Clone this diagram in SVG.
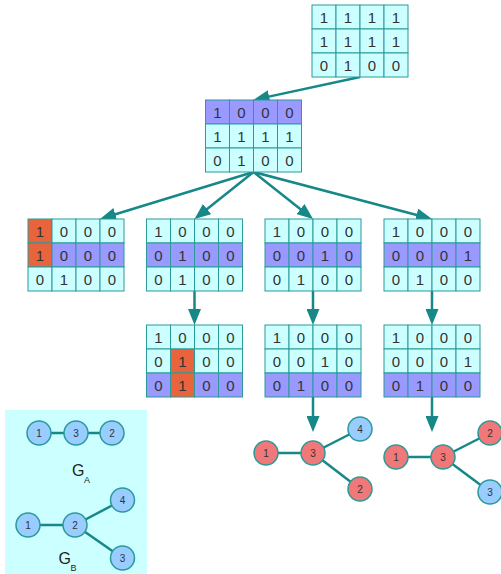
<svg xmlns="http://www.w3.org/2000/svg" width="501" height="574" viewBox="0 0 501 574">
<defs>
<style>
.c{fill:#ccffff;stroke:#2a9a9a;stroke-width:1}
.p{fill:#9999ff;stroke:#2a9a9a;stroke-width:1}
.o{fill:#e8643c;stroke:#2a9a9a;stroke-width:1}
.t{font-family:"Liberation Sans",Arial,sans-serif;font-size:15px;fill:#333;text-anchor:middle}
.e{stroke:#168888;stroke-width:2.5;fill:none}
.a{stroke:#168888;stroke-width:2.5;fill:none;marker-end:url(#ah)}
.nb{fill:#99ccff;stroke:#2a9a9a;stroke-width:1.5}
.nr{fill:#f07878;stroke:#2a9a9a;stroke-width:1.5}
.nt{font-family:"Liberation Sans",Arial,sans-serif;font-size:10px;fill:#333;text-anchor:middle}
.g{font-family:"Liberation Sans",Arial,sans-serif;font-size:16px;fill:#222}
.s{font-family:"Liberation Sans",Arial,sans-serif;font-size:9px;fill:#222}
</style>
<marker id="ah" markerUnits="userSpaceOnUse" markerWidth="17" markerHeight="13" refX="11" refY="6.5" orient="auto" viewBox="0 0 17 13">
<path d="M0,0 L16,6.5 L0,13 z" fill="#168888"/>
</marker>
</defs>

<g id="connectors">
<line class="a" x1="360" y1="77" x2="258.4" y2="98.9"/>
<line class="a" x1="253.5" y1="172" x2="104.8" y2="217.5"/>
<line class="a" x1="253.5" y1="172" x2="198.4" y2="215.9"/>
<line class="a" x1="253.5" y1="172" x2="309.1" y2="215.9"/>
<line class="a" x1="253.5" y1="172" x2="427.2" y2="217.7"/>
<line class="a" x1="194.5" y1="291" x2="194.5" y2="320"/>
<line class="a" x1="313" y1="291" x2="313" y2="320"/>
<line class="a" x1="432" y1="291" x2="432" y2="320"/>
<line class="a" x1="313" y1="397" x2="313" y2="427"/>
<line class="a" x1="432" y1="397" x2="432" y2="427"/>
</g>

<g id="m-top" transform="translate(312,5)">
<rect class="c" x="0" y="0" width="24" height="24"/><rect class="c" x="24" y="0" width="24" height="24"/><rect class="c" x="48" y="0" width="24" height="24"/><rect class="c" x="72" y="0" width="24" height="24"/>
<rect class="c" x="0" y="24" width="24" height="24"/><rect class="c" x="24" y="24" width="24" height="24"/><rect class="c" x="48" y="24" width="24" height="24"/><rect class="c" x="72" y="24" width="24" height="24"/>
<rect class="c" x="0" y="48" width="24" height="24"/><rect class="c" x="24" y="48" width="24" height="24"/><rect class="c" x="48" y="48" width="24" height="24"/><rect class="c" x="72" y="48" width="24" height="24"/>
<text class="t" x="12" y="17.5">1</text><text class="t" x="36" y="17.5">1</text><text class="t" x="60" y="17.5">1</text><text class="t" x="84" y="17.5">1</text>
<text class="t" x="12" y="41.5">1</text><text class="t" x="36" y="41.5">1</text><text class="t" x="60" y="41.5">1</text><text class="t" x="84" y="41.5">1</text>
<text class="t" x="12" y="65.5">0</text><text class="t" x="36" y="65.5">1</text><text class="t" x="60" y="65.5">0</text><text class="t" x="84" y="65.5">0</text>
</g>

<g id="m-2" transform="translate(205.5,100)">
<rect class="p" x="0" y="0" width="24" height="24"/><rect class="p" x="24" y="0" width="24" height="24"/><rect class="p" x="48" y="0" width="24" height="24"/><rect class="p" x="72" y="0" width="24" height="24"/>
<rect class="c" x="0" y="24" width="24" height="24"/><rect class="c" x="24" y="24" width="24" height="24"/><rect class="c" x="48" y="24" width="24" height="24"/><rect class="c" x="72" y="24" width="24" height="24"/>
<rect class="c" x="0" y="48" width="24" height="24"/><rect class="c" x="24" y="48" width="24" height="24"/><rect class="c" x="48" y="48" width="24" height="24"/><rect class="c" x="72" y="48" width="24" height="24"/>
<text class="t" x="12" y="17.5">1</text><text class="t" x="36" y="17.5">0</text><text class="t" x="60" y="17.5">0</text><text class="t" x="84" y="17.5">0</text>
<text class="t" x="12" y="41.5">1</text><text class="t" x="36" y="41.5">1</text><text class="t" x="60" y="41.5">1</text><text class="t" x="84" y="41.5">1</text>
<text class="t" x="12" y="65.5">0</text><text class="t" x="36" y="65.5">1</text><text class="t" x="60" y="65.5">0</text><text class="t" x="84" y="65.5">0</text>
</g>

<g id="m-3a" transform="translate(28,219)">
<rect class="o" x="0" y="0" width="24" height="24"/><rect class="c" x="24" y="0" width="24" height="24"/><rect class="c" x="48" y="0" width="24" height="24"/><rect class="c" x="72" y="0" width="24" height="24"/>
<rect class="o" x="0" y="24" width="24" height="24"/><rect class="p" x="24" y="24" width="24" height="24"/><rect class="p" x="48" y="24" width="24" height="24"/><rect class="p" x="72" y="24" width="24" height="24"/>
<rect class="c" x="0" y="48" width="24" height="24"/><rect class="c" x="24" y="48" width="24" height="24"/><rect class="c" x="48" y="48" width="24" height="24"/><rect class="c" x="72" y="48" width="24" height="24"/>
<text class="t" x="12" y="17.5">1</text><text class="t" x="36" y="17.5">0</text><text class="t" x="60" y="17.5">0</text><text class="t" x="84" y="17.5">0</text>
<text class="t" x="12" y="41.5">1</text><text class="t" x="36" y="41.5">0</text><text class="t" x="60" y="41.5">0</text><text class="t" x="84" y="41.5">0</text>
<text class="t" x="12" y="65.5">0</text><text class="t" x="36" y="65.5">1</text><text class="t" x="60" y="65.5">0</text><text class="t" x="84" y="65.5">0</text>
</g>

<g id="m-3b" transform="translate(146.5,219)">
<rect class="c" x="0" y="0" width="24" height="24"/><rect class="c" x="24" y="0" width="24" height="24"/><rect class="c" x="48" y="0" width="24" height="24"/><rect class="c" x="72" y="0" width="24" height="24"/>
<rect class="p" x="0" y="24" width="24" height="24"/><rect class="p" x="24" y="24" width="24" height="24"/><rect class="p" x="48" y="24" width="24" height="24"/><rect class="p" x="72" y="24" width="24" height="24"/>
<rect class="c" x="0" y="48" width="24" height="24"/><rect class="c" x="24" y="48" width="24" height="24"/><rect class="c" x="48" y="48" width="24" height="24"/><rect class="c" x="72" y="48" width="24" height="24"/>
<text class="t" x="12" y="17.5">1</text><text class="t" x="36" y="17.5">0</text><text class="t" x="60" y="17.5">0</text><text class="t" x="84" y="17.5">0</text>
<text class="t" x="12" y="41.5">0</text><text class="t" x="36" y="41.5">1</text><text class="t" x="60" y="41.5">0</text><text class="t" x="84" y="41.5">0</text>
<text class="t" x="12" y="65.5">0</text><text class="t" x="36" y="65.5">1</text><text class="t" x="60" y="65.5">0</text><text class="t" x="84" y="65.5">0</text>
</g>

<g id="m-3c" transform="translate(265,219)">
<rect class="c" x="0" y="0" width="24" height="24"/><rect class="c" x="24" y="0" width="24" height="24"/><rect class="c" x="48" y="0" width="24" height="24"/><rect class="c" x="72" y="0" width="24" height="24"/>
<rect class="p" x="0" y="24" width="24" height="24"/><rect class="p" x="24" y="24" width="24" height="24"/><rect class="p" x="48" y="24" width="24" height="24"/><rect class="p" x="72" y="24" width="24" height="24"/>
<rect class="c" x="0" y="48" width="24" height="24"/><rect class="c" x="24" y="48" width="24" height="24"/><rect class="c" x="48" y="48" width="24" height="24"/><rect class="c" x="72" y="48" width="24" height="24"/>
<text class="t" x="12" y="17.5">1</text><text class="t" x="36" y="17.5">0</text><text class="t" x="60" y="17.5">0</text><text class="t" x="84" y="17.5">0</text>
<text class="t" x="12" y="41.5">0</text><text class="t" x="36" y="41.5">0</text><text class="t" x="60" y="41.5">1</text><text class="t" x="84" y="41.5">0</text>
<text class="t" x="12" y="65.5">0</text><text class="t" x="36" y="65.5">1</text><text class="t" x="60" y="65.5">0</text><text class="t" x="84" y="65.5">0</text>
</g>

<g id="m-3d" transform="translate(384,219)">
<rect class="c" x="0" y="0" width="24" height="24"/><rect class="c" x="24" y="0" width="24" height="24"/><rect class="c" x="48" y="0" width="24" height="24"/><rect class="c" x="72" y="0" width="24" height="24"/>
<rect class="p" x="0" y="24" width="24" height="24"/><rect class="p" x="24" y="24" width="24" height="24"/><rect class="p" x="48" y="24" width="24" height="24"/><rect class="p" x="72" y="24" width="24" height="24"/>
<rect class="c" x="0" y="48" width="24" height="24"/><rect class="c" x="24" y="48" width="24" height="24"/><rect class="c" x="48" y="48" width="24" height="24"/><rect class="c" x="72" y="48" width="24" height="24"/>
<text class="t" x="12" y="17.5">1</text><text class="t" x="36" y="17.5">0</text><text class="t" x="60" y="17.5">0</text><text class="t" x="84" y="17.5">0</text>
<text class="t" x="12" y="41.5">0</text><text class="t" x="36" y="41.5">0</text><text class="t" x="60" y="41.5">0</text><text class="t" x="84" y="41.5">1</text>
<text class="t" x="12" y="65.5">0</text><text class="t" x="36" y="65.5">1</text><text class="t" x="60" y="65.5">0</text><text class="t" x="84" y="65.5">0</text>
</g>

<g id="m-4a" transform="translate(146.5,325)">
<rect class="c" x="0" y="0" width="24" height="24"/><rect class="c" x="24" y="0" width="24" height="24"/><rect class="c" x="48" y="0" width="24" height="24"/><rect class="c" x="72" y="0" width="24" height="24"/>
<rect class="c" x="0" y="24" width="24" height="24"/><rect class="o" x="24" y="24" width="24" height="24"/><rect class="c" x="48" y="24" width="24" height="24"/><rect class="c" x="72" y="24" width="24" height="24"/>
<rect class="p" x="0" y="48" width="24" height="24"/><rect class="o" x="24" y="48" width="24" height="24"/><rect class="p" x="48" y="48" width="24" height="24"/><rect class="p" x="72" y="48" width="24" height="24"/>
<text class="t" x="12" y="17.5">1</text><text class="t" x="36" y="17.5">0</text><text class="t" x="60" y="17.5">0</text><text class="t" x="84" y="17.5">0</text>
<text class="t" x="12" y="41.5">0</text><text class="t" x="36" y="41.5">1</text><text class="t" x="60" y="41.5">0</text><text class="t" x="84" y="41.5">0</text>
<text class="t" x="12" y="65.5">0</text><text class="t" x="36" y="65.5">1</text><text class="t" x="60" y="65.5">0</text><text class="t" x="84" y="65.5">0</text>
</g>

<g id="m-4b" transform="translate(265,325)">
<rect class="c" x="0" y="0" width="24" height="24"/><rect class="c" x="24" y="0" width="24" height="24"/><rect class="c" x="48" y="0" width="24" height="24"/><rect class="c" x="72" y="0" width="24" height="24"/>
<rect class="c" x="0" y="24" width="24" height="24"/><rect class="c" x="24" y="24" width="24" height="24"/><rect class="c" x="48" y="24" width="24" height="24"/><rect class="c" x="72" y="24" width="24" height="24"/>
<rect class="p" x="0" y="48" width="24" height="24"/><rect class="p" x="24" y="48" width="24" height="24"/><rect class="p" x="48" y="48" width="24" height="24"/><rect class="p" x="72" y="48" width="24" height="24"/>
<text class="t" x="12" y="17.5">1</text><text class="t" x="36" y="17.5">0</text><text class="t" x="60" y="17.5">0</text><text class="t" x="84" y="17.5">0</text>
<text class="t" x="12" y="41.5">0</text><text class="t" x="36" y="41.5">0</text><text class="t" x="60" y="41.5">1</text><text class="t" x="84" y="41.5">0</text>
<text class="t" x="12" y="65.5">0</text><text class="t" x="36" y="65.5">1</text><text class="t" x="60" y="65.5">0</text><text class="t" x="84" y="65.5">0</text>
</g>

<g id="m-4c" transform="translate(384,325)">
<rect class="c" x="0" y="0" width="24" height="24"/><rect class="c" x="24" y="0" width="24" height="24"/><rect class="c" x="48" y="0" width="24" height="24"/><rect class="c" x="72" y="0" width="24" height="24"/>
<rect class="c" x="0" y="24" width="24" height="24"/><rect class="c" x="24" y="24" width="24" height="24"/><rect class="c" x="48" y="24" width="24" height="24"/><rect class="c" x="72" y="24" width="24" height="24"/>
<rect class="p" x="0" y="48" width="24" height="24"/><rect class="p" x="24" y="48" width="24" height="24"/><rect class="p" x="48" y="48" width="24" height="24"/><rect class="p" x="72" y="48" width="24" height="24"/>
<text class="t" x="12" y="17.5">1</text><text class="t" x="36" y="17.5">0</text><text class="t" x="60" y="17.5">0</text><text class="t" x="84" y="17.5">0</text>
<text class="t" x="12" y="41.5">0</text><text class="t" x="36" y="41.5">0</text><text class="t" x="60" y="41.5">0</text><text class="t" x="84" y="41.5">1</text>
<text class="t" x="12" y="65.5">0</text><text class="t" x="36" y="65.5">1</text><text class="t" x="60" y="65.5">0</text><text class="t" x="84" y="65.5">0</text>
</g>

<g id="graph-result-1">
<line class="e" x1="266" y1="453" x2="313" y2="453"/>
<line class="e" x1="313" y1="453" x2="360" y2="429"/>
<line class="e" x1="313" y1="453" x2="360" y2="489"/>
<circle class="nr" cx="266" cy="453" r="12"/><text class="nt" x="266" y="456.5">1</text>
<circle class="nr" cx="313" cy="453" r="12"/><text class="nt" x="313" y="456.5">3</text>
<circle class="nb" cx="360" cy="429" r="12"/><text class="nt" x="360" y="432.5">4</text>
<circle class="nr" cx="360" cy="489" r="12"/><text class="nt" x="360" y="492.5">2</text>
</g>

<g id="graph-result-2">
<line class="e" x1="396" y1="457" x2="443" y2="457"/>
<line class="e" x1="443" y1="457" x2="490" y2="433"/>
<line class="e" x1="443" y1="457" x2="490" y2="492"/>
<circle class="nr" cx="396" cy="457" r="12"/><text class="nt" x="396" y="460.5">1</text>
<circle class="nr" cx="443" cy="457" r="12"/><text class="nt" x="443" y="460.5">3</text>
<circle class="nr" cx="490" cy="433" r="12"/><text class="nt" x="490" y="436.5">2</text>
<circle class="nb" cx="490" cy="492" r="12"/><text class="nt" x="490" y="495.5">3</text>
</g>

<g id="legend">
<rect x="5" y="410" width="142" height="164" fill="#ccffff"/>
<g id="graph-a">
<line class="e" x1="39" y1="433" x2="112" y2="433"/>
<circle class="nb" cx="39" cy="433" r="12"/><text class="nt" x="39" y="436.5">1</text>
<circle class="nb" cx="76" cy="433" r="12"/><text class="nt" x="76" y="436.5">3</text>
<circle class="nb" cx="112" cy="433" r="12"/><text class="nt" x="112" y="436.5">2</text>
<text class="g" x="72" y="476">G</text><text class="s" x="84" y="483">A</text>
</g>
<g id="graph-b">
<line class="e" x1="28" y1="525" x2="75" y2="525"/>
<line class="e" x1="75" y1="525" x2="122.5" y2="500"/>
<line class="e" x1="75" y1="525" x2="122.5" y2="558"/>
<circle class="nb" cx="28" cy="525" r="12"/><text class="nt" x="28" y="528.5">1</text>
<circle class="nb" cx="75" cy="525" r="12"/><text class="nt" x="75" y="528.5">2</text>
<circle class="nb" cx="122.5" cy="500" r="12"/><text class="nt" x="122.5" y="503.5">4</text>
<circle class="nb" cx="122.5" cy="558" r="12"/><text class="nt" x="122.5" y="561.5">3</text>
<text class="g" x="58.5" y="564">G</text><text class="s" x="70.5" y="571">B</text>
</g>
</g>
</svg>
